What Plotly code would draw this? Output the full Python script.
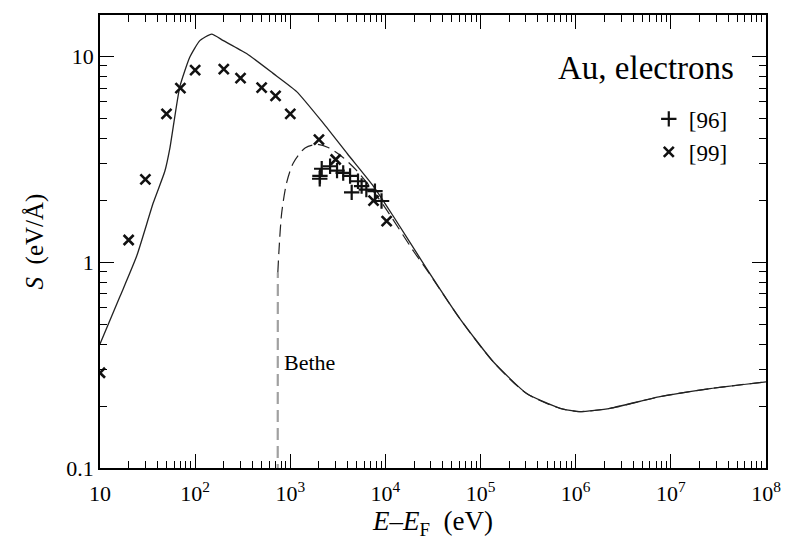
import plotly.graph_objects as go

# Solid curve (full model)
model_E = [10, 16.2, 24.3, 36.3, 48, 54.4, 69, 88, 112, 149, 198, 347, 660, 1167, 2220,
           4000, 7460, 12100, 27100, 60800, 136000, 305000, 684000, 1110000, 2300000,
           7700000, 25800000, 100000000]
model_S = [0.40, 0.68, 1.07, 1.94, 2.76, 3.6, 7.1, 9.9, 11.9, 12.8, 11.9, 10.3, 8.25, 6.73, 4.73,
           3.35, 2.34, 1.67, 0.93, 0.53, 0.328, 0.23, 0.195, 0.188, 0.195,
           0.222, 0.243, 0.262]

# Bethe curve: steep lower part (gray) and upper part
bethe_lo_E = [737, 738, 739, 740]
bethe_lo_S = [0.05, 0.3, 0.6, 0.89]
bethe_E = [740, 759, 813, 916, 1076, 1430, 1893, 2500, 3500, 5000, 7000, 10000, 20000,
           27100, 60800, 136000, 305000, 684000, 1110000, 2300000, 7700000, 25800000, 100000000]
bethe_S = [0.89, 1.12, 1.74, 2.43, 3.03, 3.58, 3.73, 3.6, 3.25, 2.78, 2.3, 1.83, 1.12,
           0.92, 0.53, 0.328, 0.23, 0.195, 0.188, 0.195, 0.222, 0.243, 0.262]

# Experimental data [99] (x markers)
ref99_E = [10, 20, 30, 50, 70, 100, 200, 300, 500, 700, 1000, 2000, 3000, 7500, 10300]
ref99_S = [0.29, 1.28, 2.52, 5.25, 7.0, 8.56, 8.65, 7.83, 7.03, 6.41, 5.25, 3.93, 3.15, 1.99, 1.58]

# Experimental data [96] (+ markers)
ref96_E = [2040, 2050, 2140, 2620, 3100, 3600, 4250, 4420, 5150, 5620, 6300, 7760, 9100]
ref96_S = [2.54, 2.62, 2.84, 2.92, 2.78, 2.71, 2.62, 2.18, 2.47, 2.34, 2.25, 2.21, 1.98]

x_tickvals = [10, 1e2, 1e3, 1e4, 1e5, 1e6, 1e7, 1e8]
x_ticktext = ["10", "10<sup>2</sup>", "10<sup>3</sup>", "10<sup>4</sup>", "10<sup>5</sup>",
              "10<sup>6</sup>", "10<sup>7</sup>", "10<sup>8</sup>"]
y_tickvals = [0.1, 1, 10]
y_ticktext = ["0.1", "1", "10"]

x_minor = [m * 10 ** d for d in range(1, 8) for m in range(2, 10)]
y_minor = [m * 10 ** d for d in range(-1, 1) for m in range(2, 10)] + [20]

FONT = "Liberation Serif"

fig = go.Figure()
fig.add_trace(go.Scatter(x=bethe_lo_E, y=bethe_lo_S, mode="lines",
                         line=dict(color="#a0a0a0", width=2.2, dash="12px,6px"),
                         showlegend=False, hoverinfo="skip"))
fig.add_trace(go.Scatter(x=bethe_E, y=bethe_S, mode="lines",
                         line=dict(color="#222", width=1.2, dash="12px,6px",
                                   shape="spline", smoothing=0.8),
                         showlegend=False, hoverinfo="skip"))
fig.add_trace(go.Scatter(x=model_E, y=model_S, mode="lines",
                         line=dict(color="#222", width=1.3, shape="spline", smoothing=0.5),
                         showlegend=False))
fig.add_trace(go.Scatter(x=ref96_E, y=ref96_S, mode="markers", name="[96]",
                         legendgroup="a",
                         marker=dict(symbol="cross-thin", size=11,
                                     line=dict(color="#111", width=2.2))))
fig.add_trace(go.Scatter(x=ref99_E, y=ref99_S, mode="markers", name="[99]",
                         legendgroup="b",
                         marker=dict(symbol="x-thin", size=10,
                                     line=dict(color="#111", width=2.6))))

fig.add_annotation(x=0.955, y=0.883, xref="paper", yref="paper", text="Au, electrons",
                   showarrow=False, xanchor="right", yanchor="middle",
                   font=dict(family=FONT, size=33, color="black"))
fig.add_annotation(x=2.91, y=-0.49, xref="x", yref="y", text="Bethe",
                   showarrow=False, xanchor="left", yanchor="middle",
                   font=dict(family=FONT, size=22, color="black"))

axis_common = dict(showgrid=False, zeroline=False, showline=True, linecolor="black",
                   linewidth=1.5, mirror="ticks", ticks="inside", tickcolor="black",
                   tickwidth=1.3, ticklen=14,
                   tickfont=dict(family=FONT, size=22, color="black"))

fig.update_xaxes(type="log", range=[1, 8], tickmode="array", tickvals=x_tickvals,
                 ticktext=x_ticktext, ticklabelstandoff=5,
                 minor=dict(tickmode="array", tickvals=x_minor, ticks="inside", ticklen=7,
                            tickcolor="black", tickwidth=1.1, showgrid=False),
                 title=dict(text="<i>E</i>–<i>E</i><sub>F</sub>  (eV)",
                            font=dict(family=FONT, size=27, color="black"), standoff=2),
                 **axis_common)
fig.update_yaxes(type="log", range=[-1, 1.2], tickmode="array", tickvals=y_tickvals,
                 ticktext=y_ticktext,
                 minor=dict(tickmode="array", tickvals=y_minor, ticks="inside", ticklen=7,
                            tickcolor="black", tickwidth=1.1, showgrid=False),
                 title=dict(text="<i>S</i>  (eV/Å)",
                            font=dict(family=FONT, size=25, color="black"), standoff=16),
                 **axis_common)

fig.update_layout(
    width=793, height=544,
    margin=dict(l=100, r=27, t=15, b=76),
    paper_bgcolor="white", plot_bgcolor="white",
    legend=dict(x=0.824, y=0.818, xanchor="left", yanchor="top",
                font=dict(family=FONT, size=23, color="black"),
                bgcolor="rgba(0,0,0,0)", tracegroupgap=0, itemwidth=30),
)

fig.write_html("out.html")
